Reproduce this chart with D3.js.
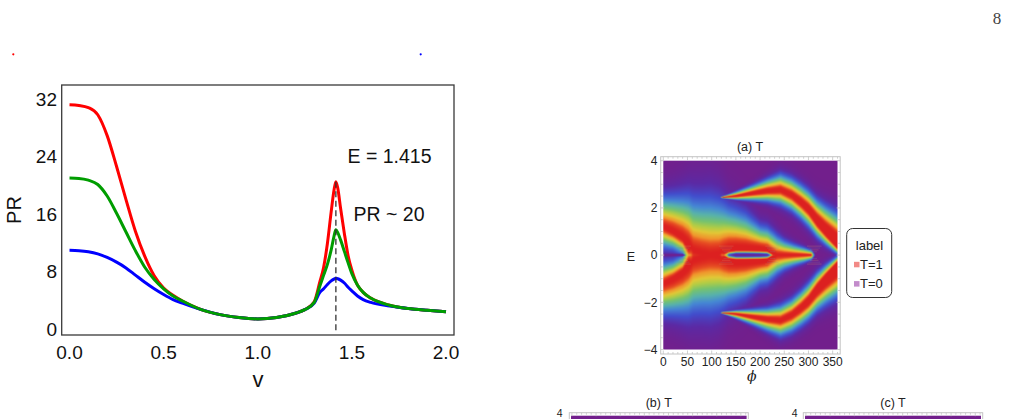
<!DOCTYPE html>
<html><head><meta charset="utf-8">
<script src="https://cdn.jsdelivr.net/npm/d3@7"></script>
<style>body{margin:0;background:#fff;} svg{display:block;}</style>
</head><body>
<svg id="chart" width="1009" height="419"></svg>
<script>
// ---------------- Left chart data (PR vs v) ----------------
const vValues = [0, 0.05, 0.1, 0.15, 0.2, 0.25, 0.3, 0.35, 0.4, 0.45, 0.5, 0.55, 0.6, 0.7, 0.8, 0.9, 1.0, 1.1, 1.2, 1.25, 1.3, 1.33, 1.35, 1.37, 1.39, 1.405, 1.415, 1.425, 1.44, 1.46, 1.48, 1.5, 1.53, 1.56, 1.6, 1.7, 1.8, 1.9, 2.0];
const prRed   = [31.2, 31.1, 30.8, 29.8, 26.9, 22.6, 18.0, 13.6, 10.1, 7.4, 5.7, 4.7, 3.9, 2.7, 2.0, 1.6, 1.4, 1.6, 2.2, 2.7, 3.8, 6.6, 8.6, 11.9, 16.3, 19.3, 20.5, 19.6, 16.8, 13.3, 10.2, 8.2, 6.1, 5.1, 4.3, 3.3, 2.85, 2.6, 2.4];
const prGreen = [21.0, 20.95, 20.7, 20.1, 18.5, 16.1, 13.5, 10.9, 8.6, 6.9, 5.6, 4.6, 3.9, 2.7, 2.0, 1.6, 1.4, 1.6, 2.2, 2.7, 3.7, 6.0, 7.5, 9.0, 11.0, 12.9, 13.8, 13.4, 12.4, 10.8, 9.2, 7.7, 6.1, 5.1, 4.3, 3.3, 2.85, 2.6, 2.4];
const prBlue  = [10.95, 10.9, 10.75, 10.45, 9.95, 9.3, 8.5, 7.5, 6.5, 5.6, 4.8, 4.1, 3.6, 2.7, 2.0, 1.6, 1.4, 1.6, 2.2, 2.7, 3.6, 5.1, 5.6, 6.2, 6.7, 6.95, 7.05, 7.0, 6.8, 6.4, 5.8, 5.3, 4.6, 4.1, 3.7, 3.2, 2.85, 2.6, 2.4];
const seriesColors = ["#ff0000", "#0000ff", "#009d00"];
const yTicksLeft = [0, 8, 16, 24, 32];
const xTicksLeft = [0, 0.5, 1.0, 1.5, 2.0];
const peakV = 1.415;
const peakPR = 20.5;
const annotE = "E = 1.415";
const annotPR = "PR ~ 20";

// ---------------- Heatmap (a) T data ----------------
const phiTicks = [0, 50, 100, 150, 200, 250, 300, 350];
const eTicks = [-4, -2, 0, 2, 4];
// colour stops of the T scale (0 -> 1)
const colorStopsT = [0, 0.12, 0.25, 0.4, 0.52, 0.64, 0.74, 0.82, 0.9, 0.95, 1.0];
const colorStops = ["rgb(114,31,140)", "rgb(92,42,165)", "rgb(66,78,205)", "rgb(70,135,212)", "rgb(88,178,172)", "rgb(118,195,112)", "rgb(178,205,70)", "rgb(226,200,55)", "rgb(240,150,45)", "rgb(232,80,35)", "rgb(220,32,32)"];
// Ridge A: central resonance (E >= 0 half, mirrored). r = red edge, p = purple edge (distance from centre)
const ridgeAPhi  = [0, 20, 40, 52, 62, 80, 97, 115, 125, 135, 150, 170, 200, 215, 226, 235, 250, 270, 290, 306, 314, 360];
const ridgeAE    = [1.22, 1.05, 0.8, 0.55, 0.2, 0.08, 0.0, 0.05, 0.2, 0.32, 0.35, 0.34, 0.3, 0.25, 0.1, 0.0, 0.0, 0.0, 0.0, 0.0, 0.0, 0.0];
const ridgeARin  = [0.27, 0.28, 0.3, 0.5, 0.2, 0.08, 0.0, 0.05, 0.2, 0.2, 0.19, 0.18, 0.15, 0.12, 0.1, 0.0, 0.0, 0.0, 0.0, 0.0, 0.0, 0.0];
const ridgeAPin  = [1.3, 1.15, 1.1, 1.5, 2.0, 2.0, 2.0, 1.0, 0.6, 0.36, 0.32, 0.31, 0.28, 0.25, 0.2, 0.0, 0.0, 0.0, 0.0, 0.0, 0.0, 0.0];
const ridgeARout = [0.3, 0.3, 0.3, 0.32, 0.45, 0.45, 0.45, 0.42, 0.32, 0.22, 0.18, 0.18, 0.15, 0.13, 0.12, 0.15, 0.14, 0.1, 0.06, 0.02, 0.01, 0.01];
const ridgeAPout = [1.8, 2.0, 2.3, 2.6, 3.0, 3.1, 3.2, 3.0, 2.6, 2.2, 2.0, 1.8, 1.25, 1.2, 1.15, 1.1, 0.85, 0.62, 0.43, 0.25, 0.05, 0.05];
const ridgeAAmp  = [1, 1, 1, 1, 1, 1, 1, 1, 1, 1, 1, 1, 1, 1, 1, 1, 1, 1, 1, 1, 0, 0];
// Ridge B: outer band (E >= 0 half, mirrored)
const ridgeBPhi  = [0, 117, 121, 130, 150, 186, 215, 242, 265, 284, 300, 317, 335, 360];
const ridgeBE    = [2.45, 2.45, 2.45, 2.46, 2.5, 2.62, 2.72, 2.77, 2.55, 2.25, 1.95, 1.5, 1.12, 0.65];
const ridgeBRin  = [0, 0, 0.01, 0.02, 0.05, 0.1, 0.15, 0.2, 0.22, 0.25, 0.28, 0.32, 0.36, 0.42];
const ridgeBPin  = [0.02, 0.02, 0.05, 0.1, 0.22, 0.45, 0.65, 0.9, 0.95, 1.0, 1.05, 1.0, 0.9, 0.75];
const ridgeBRout = [0, 0, 0.01, 0.03, 0.06, 0.12, 0.16, 0.2, 0.22, 0.25, 0.28, 0.32, 0.36, 0.42];
const ridgeBPout = [0.02, 0.02, 0.05, 0.12, 0.27, 0.5, 0.72, 0.95, 1.0, 1.05, 1.1, 1.2, 1.35, 1.55];
const ridgeBAmp  = [0, 0, 1, 1, 1, 1, 1, 1, 1, 1, 1, 1, 1, 1];
// narrow zero-transmission line at E = 0
const dipPhi   = [0, 40, 46, 360];
const dipWidth = [0.05, 0.05, 0.0, 0.0];
// numerical hatch artefacts
const hatchPhi = [42, 130, 226, 312];
const legendLabels = ["T=1", "T=0"];
const legendColors = ["#f28a86", "#c38ccb"];

const svg = d3.select("#chart");
svg.append("rect").attr("width", 1009).attr("height", 419).attr("fill", "#fff");

// page number + tiny marks
svg.append("text").attr("x", 997).attr("y", 24).attr("text-anchor", "middle")
  .attr("font-family", "Liberation Serif, DejaVu Serif, serif").attr("font-size", 17).attr("fill", "#444").text("8");
svg.append("circle").attr("cx", 13.3).attr("cy", 54.3).attr("r", 1.1).attr("fill", "#ff0000");
svg.append("circle").attr("cx", 420.7).attr("cy", 54.3).attr("r", 1.1).attr("fill", "#0000ff");

// ================= Left chart =================
const xL = d3.scaleLinear([-0.0415, 2.0425], [61.7, 454]);
const yL = d3.scaleLinear([-0.83, 33.94], [335, 85]);
const fontL = "Liberation Sans, Arial, sans-serif";

svg.append("defs").append("clipPath").attr("id", "clipL")
  .append("rect").attr("x", 61.7).attr("y", 85).attr("width", 454 - 61.7).attr("height", 250);

const line = d3.line().x(d => xL(d[0])).y(d => yL(d[1])).curve(d3.curveMonotoneX);
const gL = svg.append("g").attr("clip-path", "url(#clipL)");
[prRed, prBlue, prGreen].forEach((s, i) => {
  gL.append("path").datum(vValues.map((v, j) => [v, s[j]]))
    .attr("d", line).attr("fill", "none").attr("stroke", seriesColors[i])
    .attr("stroke-width", 3).attr("stroke-linejoin", "round");
});
// dashed marker line
svg.append("line").attr("x1", xL(peakV)).attr("x2", xL(peakV))
  .attr("y1", yL(peakPR)).attr("y2", yL(-0.2))
  .attr("stroke", "#333").attr("stroke-width", 1.3).attr("stroke-dasharray", "6,3.5");

svg.append("rect").attr("x", 61.7).attr("y", 85).attr("width", 454 - 61.7).attr("height", 250)
  .attr("fill", "none").attr("stroke", "#3a3a3a").attr("stroke-width", 1.3);

svg.append("g").selectAll("text").data(yTicksLeft).join("text")
  .attr("x", 57).attr("y", d => yL(d)).attr("dy", "0.36em").attr("text-anchor", "end")
  .attr("font-family", fontL).attr("font-size", 19).attr("fill", "#111").text(d => d);
svg.append("g").selectAll("text").data(xTicksLeft).join("text")
  .attr("x", d => xL(d)).attr("y", 352).attr("dy", "0.36em").attr("text-anchor", "middle")
  .attr("font-family", fontL).attr("font-size", 19).attr("fill", "#111").text(d => d.toFixed(1));
svg.append("text").attr("x", 258).attr("y", 383).attr("dy", "0.2em").attr("text-anchor", "middle")
  .attr("font-family", fontL).attr("font-size", 22).attr("fill", "#111").text("v");
svg.append("text").attr("transform", "translate(14,210) rotate(-90)").attr("dy", "0.36em")
  .attr("text-anchor", "middle").attr("font-family", fontL).attr("font-size", 20).attr("fill", "#111").text("PR");
svg.append("text").attr("x", 389.5).attr("y", 156).attr("dy", "0.36em").attr("text-anchor", "middle")
  .attr("font-family", fontL).attr("font-size", 19.5).attr("fill", "#111").text(annotE);
svg.append("text").attr("x", 389).attr("y", 214).attr("dy", "0.36em").attr("text-anchor", "middle")
  .attr("font-family", fontL).attr("font-size", 19.5).attr("fill", "#111").text(annotPR);

// ================= Heatmap (a) =================
const xH = d3.scaleLinear([0, 360], [663.3, 837.5]);
const yH = d3.scaleLinear([-4, 4], [349.5, 160.7]);
const colorT = d3.scaleLinear().domain(colorStopsT).range(colorStops).interpolate(d3.interpolateRgb).clamp(true);
const fontH = "Liberation Sans, Arial, sans-serif";

function mk(phis, vals) { return d3.scaleLinear().domain(phis).range(vals).clamp(true); }
const ridges = [
  {c: mk(ridgeAPhi, ridgeAE), rIn: mk(ridgeAPhi, ridgeARin), pIn: mk(ridgeAPhi, ridgeAPin), rOut: mk(ridgeAPhi, ridgeARout), pOut: mk(ridgeAPhi, ridgeAPout), amp: mk(ridgeAPhi, ridgeAAmp)},
  {c: mk(ridgeBPhi, ridgeBE), rIn: mk(ridgeBPhi, ridgeBRin), pIn: mk(ridgeBPhi, ridgeBPin), rOut: mk(ridgeBPhi, ridgeBRout), pOut: mk(ridgeBPhi, ridgeBPout), amp: mk(ridgeBPhi, ridgeBAmp)}
];
const dipW = mk(dipPhi, dipWidth);
function ridgeT(r, phi, e) {
  const a = r.amp(phi); if (a <= 0) return 0;
  const c = r.c(phi), d = e - c, out = d >= 0;
  const rr = out ? r.rOut(phi) : r.rIn(phi);
  const pp = out ? r.pOut(phi) : r.pIn(phi);
  const w = Math.max(0.004, (pp - rr) / 1.3);
  const k = Math.max(0, rr - 0.29 * w);
  const x = Math.max(0, Math.abs(d) - k) / w;
  return a * Math.exp(-x * x);
}
function fieldT(phi, E) {
  const e = Math.abs(E);
  let t = 0;
  ridges.forEach(r => { t = Math.max(t, ridgeT(r, phi, e)); });
  const dw = dipW(phi);
  if (dw > 0) t *= 1 - Math.exp(-(e / dw) * (e / dw));
  return t;
}
const SS = 2;
const pw = xH.range()[1] - xH.range()[0], ph = yH.range()[0] - yH.range()[1];
const cw = Math.round(pw * SS), ch = Math.round(ph * SS);
const canvas = document.createElement("canvas");
canvas.width = cw; canvas.height = ch;
const ctx = canvas.getContext("2d");
const img = ctx.createImageData(cw, ch);
for (let j = 0; j < ch; j++) {
  const E = yH.invert(yH.range()[1] + (j + 0.5) / SS);
  for (let i = 0; i < cw; i++) {
    const phi = xH.invert(xH.range()[0] + (i + 0.5) / SS);
    const col = d3.rgb(colorT(fieldT(phi, E)));
    const q = (j * cw + i) * 4;
    img.data[q] = col.r; img.data[q + 1] = col.g; img.data[q + 2] = col.b; img.data[q + 3] = 255;
  }
}
ctx.putImageData(img, 0, 0);
svg.append("image").attr("x", xH.range()[0]).attr("y", yH.range()[1]).attr("width", pw).attr("height", ph)
  .attr("preserveAspectRatio", "none").attr("href", canvas.toDataURL());

// hatch artefacts
const gHatch = svg.append("g").attr("opacity", 0.35);
hatchPhi.forEach(p => {
  [0.14, 0.22, 0.3, 0.38].forEach((e, i) => {
    [1, -1].forEach(s => {
      gHatch.append("line").attr("x1", xH(p - e * 40)).attr("x2", xH(p + e * 40))
        .attr("y1", yH(s * e)).attr("y2", yH(s * e))
        .attr("stroke", i % 2 ? "#d0a070" : "#8a8a9a").attr("stroke-width", 0.7);
    });
  });
});

// frame and ticks
const fx0 = 660.7, fx1 = 840.2, fy0 = 156.7, fy1 = 354;
svg.append("rect").attr("x", fx0).attr("y", fy0).attr("width", fx1 - fx0).attr("height", fy1 - fy0)
  .attr("fill", "none").attr("stroke", "#c4c4c4").attr("stroke-width", 1);
const gT = svg.append("g").attr("stroke", "#c4c4c4").attr("stroke-width", 0.8);
d3.range(0, 361, 10).forEach(p => {
  const L = p % 50 === 0 ? 3.5 : 2;
  gT.append("line").attr("x1", xH(p)).attr("x2", xH(p)).attr("y1", fy1).attr("y2", fy1 - L);
  gT.append("line").attr("x1", xH(p)).attr("x2", xH(p)).attr("y1", fy0).attr("y2", fy0 + L);
});
d3.range(-4, 4.01, 0.5).forEach(e => {
  const L = Math.abs(e % 2) < 1e-6 ? 3.5 : 2;
  gT.append("line").attr("x1", fx0).attr("x2", fx0 + L).attr("y1", yH(e)).attr("y2", yH(e));
  gT.append("line").attr("x1", fx1).attr("x2", fx1 - L).attr("y1", yH(e)).attr("y2", yH(e));
});
svg.append("g").selectAll("text").data(phiTicks).join("text")
  .attr("x", d => xH(d)).attr("y", 361.7).attr("dy", "0.36em").attr("text-anchor", "middle")
  .attr("font-family", fontH).attr("font-size", 12).attr("fill", "#222").text(d => d);
svg.append("g").selectAll("text").data(eTicks).join("text")
  .attr("x", 657.5).attr("y", d => yH(d)).attr("dy", "0.36em").attr("text-anchor", "end")
  .attr("font-family", fontH).attr("font-size", 12).attr("fill", "#222").text(d => d < 0 ? "\u2212" + (-d) : d);
svg.append("text").attr("x", 750).attr("y", 146.7).attr("dy", "0.36em").attr("text-anchor", "middle")
  .attr("font-family", fontH).attr("font-size", 12.5).attr("fill", "#222").text("(a) T");
svg.append("text").attr("x", 631).attr("y", 256.7).attr("dy", "0.36em").attr("text-anchor", "middle")
  .attr("font-family", fontH).attr("font-size", 12.5).attr("fill", "#222").text("E");
svg.append("text").attr("x", 751.7).attr("y", 376).attr("dy", "0.36em").attr("text-anchor", "middle")
  .attr("font-family", "DejaVu Serif, serif").attr("font-style", "italic").attr("font-size", 14).attr("fill", "#222").text("\u03D5");

// legend
svg.append("rect").attr("x", 846.7).attr("y", 228.5).attr("width", 45).attr("height", 69)
  .attr("rx", 6).attr("fill", "#fff").attr("stroke", "#333").attr("stroke-width", 1);
svg.append("text").attr("x", 869.5).attr("y", 245).attr("dy", "0.36em").attr("text-anchor", "middle")
  .attr("font-family", fontH).attr("font-size", 13).attr("fill", "#222").text("label");
legendLabels.forEach((l, i) => {
  const cy = 264.3 + i * 19.3;
  svg.append("rect").attr("x", 854).attr("y", cy - 2.5).attr("width", 5.5).attr("height", 5.5).attr("fill", legendColors[i]);
  svg.append("text").attr("x", 860).attr("y", cy).attr("dy", "0.36em")
    .attr("font-family", fontH).attr("font-size", 13).attr("fill", "#222").text(l);
});

// ================= partial panels (b), (c) =================
const panels = [{t: "(b) T", x0: 569.3, x1: 748.3, lab: 559.7}, {t: "(c) T", x0: 803.3, x1: 982.7, lab: 794.7}];
panels.forEach(p => {
  svg.append("text").attr("x", (p.x0 + p.x1) / 2).attr("y", 402.3).attr("dy", "0.36em").attr("text-anchor", "middle")
    .attr("font-family", fontH).attr("font-size", 12.5).attr("fill", "#222").text(p.t);
  svg.append("rect").attr("x", p.x0 + 1.7).attr("y", 415.7).attr("width", p.x1 - p.x0 - 3.4).attr("height", 10)
    .attr("fill", colorT(0));
  svg.append("rect").attr("x", p.x0).attr("y", 412.7).attr("width", p.x1 - p.x0).attr("height", 20)
    .attr("fill", "none").attr("stroke", "#c4c4c4").attr("stroke-width", 1);
  const sx = d3.scaleLinear([0, 360], [p.x0 + 2.6, p.x1 - 2.6]);
  d3.range(0, 361, 10).forEach(v => {
    svg.append("line").attr("x1", sx(v)).attr("x2", sx(v)).attr("y1", 412.7).attr("y2", 412.7 + (v % 50 === 0 ? 3.5 : 2))
      .attr("stroke", "#c4c4c4").attr("stroke-width", 0.8);
  });
  svg.append("text").attr("x", p.lab).attr("y", 413.2).attr("dy", "0.32em").attr("text-anchor", "middle")
    .attr("font-family", fontH).attr("font-size", 10.5).attr("fill", "#222").text("4");
});
</script>
</body></html>
